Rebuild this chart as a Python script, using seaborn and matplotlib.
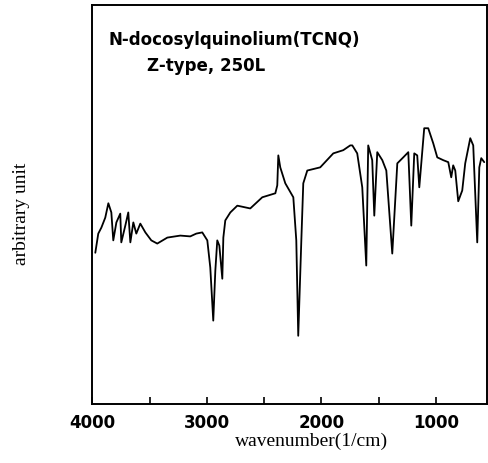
import pandas as pd
import matplotlib
matplotlib.use("Agg")
import matplotlib.pyplot as plt
import seaborn as sns

# IR spectrum (wavenumber in 1/cm, signal in arbitrary units 0-100)
wavenumber = [3974, 3948, 3921, 3887, 3860, 3834, 3817, 3790, 3756, 3747,
              3712, 3686, 3668, 3642, 3616, 3581, 3537, 3485, 3433, 3345,
              3232, 3145, 3092, 3040, 2996, 2970, 2944, 2926, 2909, 2891,
              2865, 2856, 2839, 2795, 2734, 2621, 2516, 2402, 2385, 2376,
              2359, 2315, 2245, 2219, 2202, 2175, 2158, 2123, 2010, 1896,
              1809, 1748, 1730, 1687, 1643, 1608, 1591, 1556, 1538, 1512,
              1468, 1433, 1381, 1337, 1285, 1241, 1215, 1189, 1163, 1145,
              1102, 1067, 1023, 988, 936, 892, 866, 849, 831, 805,
              770, 744, 700, 674, 639, 621, 604, 578]
signal = [37.9, 42.7, 44.2, 46.7, 50.3, 48.0, 41.0, 45.5, 47.7, 40.5,
          44.7, 48.0, 40.5, 45.5, 42.7, 45.2, 43.0, 41.0, 40.2, 41.7,
          42.2, 42.0, 42.7, 43.0, 41.0, 34.2, 20.9, 33.4, 41.0, 39.7,
          31.4, 41.7, 46.0, 48.0, 49.7, 49.0, 51.8, 52.8, 54.8, 62.3,
          59.3, 55.3, 51.8, 41.0, 17.1, 41.0, 55.3, 58.5, 59.3, 62.8,
          63.6, 64.8, 64.8, 62.8, 54.3, 34.7, 64.8, 61.1, 47.2, 63.1,
          61.1, 58.5, 37.7, 60.3, 61.8, 63.1, 44.7, 62.8, 62.3, 54.3,
          69.1, 69.1, 65.3, 61.8, 61.1, 60.6, 56.8, 59.8, 58.5, 50.8,
          53.5, 60.3, 66.6, 64.8, 40.5, 59.3, 61.6, 60.6]

major_ticks = [4000, 3000, 2000, 1000]
minor_ticks = [3500, 2500, 1500]
title_lines = ["N-docosylquinolium(TCNQ)", "Z-type, 250L"]


def main():
    sns.set_style("ticks")
    plt.rcParams["text.color"] = "black"
    plt.rcParams["axes.labelcolor"] = "black"
    df = pd.DataFrame({"wavenumber": wavenumber, "signal": signal})

    fig = plt.figure(figsize=(4.89, 4.63), dpi=100)
    ax = fig.add_axes([0.1888, 0.1274, 0.808, 0.862])

    sns.lineplot(data=df, x="wavenumber", y="signal", color="black",
                 linewidth=1.3, estimator=None, ax=ax)

    ax.set_xlim(4000, 550)
    ax.set_ylim(0, 100)

    ax.set_xticks(major_ticks)
    ax.set_xticks(minor_ticks, minor=True)
    ax.set_xticklabels([str(t) for t in major_ticks],
                       fontfamily="DejaVu Sans", fontweight="bold", fontsize=12)
    ax.tick_params(axis="x", which="both", direction="in", length=5,
                   width=1.2, pad=7, colors="black")
    ax.set_yticks([])

    for side in ["left", "right", "top", "bottom"]:
        ax.spines[side].set_visible(True)
        ax.spines[side].set_color("black")
        ax.spines[side].set_linewidth(1.4)

    ax.set_xlabel("wavenumber(1/cm)", fontfamily="Liberation Serif",
                  fontsize=14, color="black")
    ax.xaxis.set_label_coords(0.556, -0.072)
    ax.set_ylabel("arbitrary unit", fontfamily="Liberation Serif",
                  fontsize=14, color="black")
    ax.yaxis.set_label_coords(-0.158, 0.476)

    ax.text(0.040, 0.912, title_lines[0], transform=ax.transAxes,
            ha="left", va="center", fontfamily="DejaVu Sans",
            fontweight="bold", fontsize=12, color="black")
    ax.text(0.138, 0.847, title_lines[1], transform=ax.transAxes,
            ha="left", va="center", fontfamily="DejaVu Sans",
            fontweight="bold", fontsize=12, color="black")

    plt.savefig("out.png", dpi=100)


if __name__ == "__main__":
    main()
